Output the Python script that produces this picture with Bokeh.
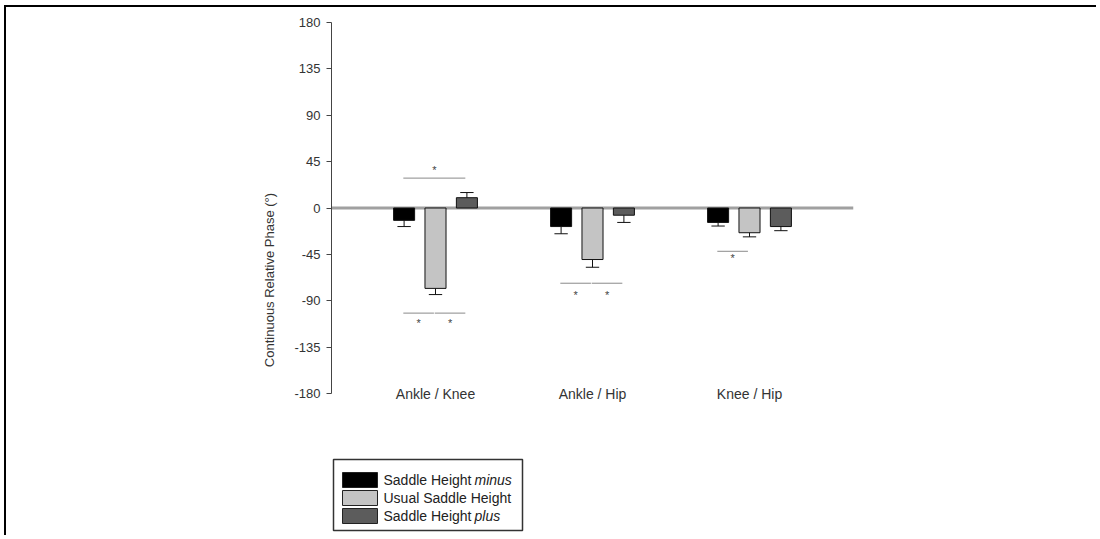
from bokeh.plotting import figure
from bokeh.models import Range1d, FixedTicker, Span
from bokeh.core.properties import value
from bokeh.embed import file_html
from bokeh.resources import INLINE

# ---------------- data ----------------
pairs = ["Ankle / Knee", "Ankle / Hip", "Knee / Hip"]
conditions = ["Saddle Height ", "Usual Saddle Height", "Saddle Height "]
conditions_italic = ["minus", "", "plus"]
minus_mean = [-12, -18, -14]
minus_se = [6, 7, 3.5]
usual_mean = [-78, -50, -24]
usual_se = [6, 7.5, 4]
plus_mean = [10, -7, -18]
plus_se = [5, 7, 4]
y_ticks = [-180, -135, -90, -45, 0, 45, 90, 135, 180]
# significance brackets: pair index, bar a, bar b, line level, asterisk level
sig_pair = [0, 0, 0, 1, 1, 2]
sig_from = [0, 0, 1, 0, 1, 0]
sig_to = [2, 1, 2, 1, 2, 1]
sig_line = [29, -102, -102, -73, -73, -42]
sig_star = [37, -112, -112, -84, -84, -49]

# ---------------- style ----------------
colors = ["#000000", "#c4c4c4", "#5c5c5c"]
offsets = [-0.2, 0.0, 0.2]
bar_w = 0.134
cap_w = 0.085
FONT = "Liberation Sans"

# canvas origin sits at (6, 7) of the page (4/5 px offset + 2 px border)
OX, OY = 6, 7
W, H = 1092, 530
x_start, x_end = 0.3376, 3.6624
PX0, PX1, PY0, PY1 = 331, 853, 22, 393   # page px of x-range ends and of +/-180
y_top = 180
y_bottom = 180 - (OY + H - PY0) * 360 / (PY1 - PY0)

p = figure(width=W, height=H, output_backend="svg", toolbar_location=None,
           x_range=Range1d(x_start, x_end), y_range=Range1d(y_bottom, y_top),
           min_border_left=PX0 - OX, min_border_right=W - (PX1 - OX),
           min_border_top=PY0 - OY, min_border_bottom=0)
p.styles = {"margin-left": "4px", "margin-top": "5px",
            "border-top": "2px solid #000", "border-left": "2px solid #000"}
p.xgrid.visible = False
p.ygrid.visible = False
p.outline_line_color = None
p.xaxis.visible = False

ax = p.yaxis[0]
ax.bounds = (-180, 180)
ax.ticker = FixedTicker(ticks=y_ticks)
ax.major_label_overrides = {t: str(t) for t in y_ticks}
ax.minor_tick_line_color = None
ax.major_tick_in = 0
ax.major_tick_out = 5
ax.axis_line_color = "#444444"
ax.major_tick_line_color = "#444444"
ax.major_label_text_font = FONT
ax.major_label_text_font_size = "13px"
ax.major_label_text_color = "#333333"
ax.major_label_standoff = 6
ax.axis_label = "Continuous Relative Phase (°)"
ax.axis_label_text_font = FONT
ax.axis_label_text_font_size = "13px"
ax.axis_label_text_font_style = "normal"
ax.axis_label_text_color = "#333333"
ax.axis_label_standoff = 14

# zero line
p.add_layout(Span(location=0, dimension="width", line_color="#a0a0a0",
                  line_width=3, level="underlay"))

means = [minus_mean, usual_mean, plus_mean]
ses = [minus_se, usual_se, plus_se]
for k in range(3):
    xs = [i + 1 + offsets[k] for i in range(3)]
    m = means[k]
    ends = [mv + (se if mv > 0 else -se) for mv, se in zip(m, ses[k])]
    p.vbar(x=xs, top=m, bottom=0, width=bar_w, fill_color=colors[k],
           line_color="#111111", line_width=1)
    p.segment(x0=xs, y0=m, x1=xs, y1=ends, line_color="#111111", line_width=1)
    p.segment(x0=[x - cap_w / 2 for x in xs], y0=ends,
              x1=[x + cap_w / 2 for x in xs], y1=ends,
              line_color="#111111", line_width=1)

# significance markers
lx0 = [sig_pair[i] + 1 + offsets[sig_from[i]] - 0.005 for i in range(len(sig_pair))]
lx1 = [sig_pair[i] + 1 + offsets[sig_to[i]] - 0.01 for i in range(len(sig_pair))]
p.segment(x0=lx0, y0=sig_line, x1=lx1, y1=sig_line, line_color="#8a8a8a", line_width=1)
p.text(x=[(a + b) / 2 for a, b in zip(lx0, lx1)], y=sig_star, text=["*"] * len(sig_star),
       text_align="center", text_baseline="middle", text_font=value(FONT),
       text_font_size=value("11px"), text_color="#444444")

# category labels
p.text(x=[1, 2, 3], y=[-180] * 3, text=pairs, text_align="center",
       text_baseline="middle", text_font=value(FONT),
       text_font_size=value("14px"), text_color="#333333")

# ---------------- legend (placed by page pixel positions) ----------------
def xd(px):
    return x_start + (px - PX0) / (PX1 - PX0) * (x_end - x_start)
def yd(py):
    return 180 - (py - PY0) * 360 / (PY1 - PY0)

p.quad(left=[xd(333)], right=[xd(522)], top=[yd(459)], bottom=[yd(530)],
       fill_color="white", line_color="#333333", line_width=1.5)
row_top = [472, 490, 508]
row_bot = [487, 505, 523]
p.quad(left=[xd(342)] * 3, right=[xd(377)] * 3, top=[yd(t) for t in row_top],
       bottom=[yd(b) for b in row_bot], fill_color=colors, line_color="#222222")
row_mid = [yd((t + b) / 2) for t, b in zip(row_top, row_bot)]
p.text(x=[xd(383)] * 3, y=row_mid, text=conditions, text_baseline="middle",
       text_font=value(FONT), text_font_size=value("14px"), text_color="#222222")
p.text(x=[xd(474)] * 3, y=row_mid, text=conditions_italic, text_baseline="middle",
       text_font=value(FONT), text_font_size=value("14px"), text_font_style="italic",
       text_color="#222222")

open("out.html", "w").write(file_html(p, INLINE))
